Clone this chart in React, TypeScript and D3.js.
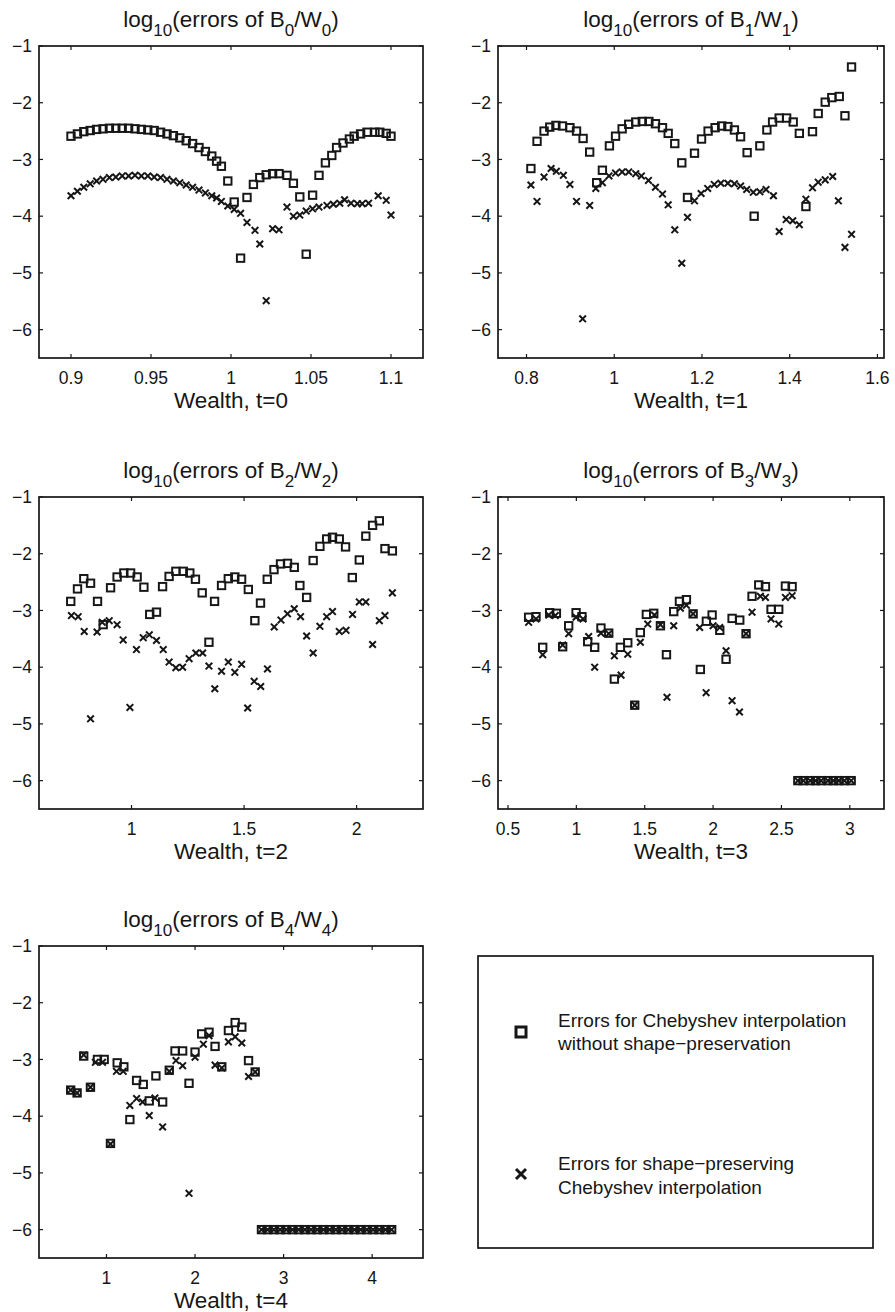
import React from 'react'
import * as d3 from 'd3'

// values (log10 of the errors)
const yTicks = [-1, -2, -3, -4, -5, -6]

const xTicks0 = [0.9, 0.95, 1, 1.05, 1.1]
const xTicks1 = [0.8, 1, 1.2, 1.4, 1.6]
const xTicks2 = [1, 1.5, 2]
const xTicks3 = [0.5, 1, 1.5, 2, 2.5, 3]
const xTicks4 = [1, 2, 3, 4]

const squares0 = [[0.9,-2.59],[0.904,-2.55],[0.908,-2.51],[0.912,-2.49],[0.916,-2.47],[0.92,-2.46],[0.924,-2.45],[0.928,-2.45],[0.932,-2.45],[0.936,-2.45],[0.94,-2.46],[0.944,-2.47],[0.948,-2.48],[0.952,-2.49],[0.956,-2.52],[0.96,-2.55],[0.964,-2.58],[0.968,-2.62],[0.972,-2.67],[0.976,-2.72],[0.98,-2.79],[0.984,-2.86],[0.988,-2.94],[0.991,-3.03],[0.994,-3.12],[0.998,-3.38],[1.002,-3.75],[1.006,-4.74],[1.01,-3.67],[1.014,-3.44],[1.018,-3.32],[1.022,-3.27],[1.026,-3.25],[1.03,-3.25],[1.035,-3.28],[1.039,-3.42],[1.043,-3.66],[1.047,-4.67],[1.051,-3.63],[1.055,-3.28],[1.059,-3.06],[1.063,-2.93],[1.066,-2.79],[1.07,-2.71],[1.074,-2.64],[1.077,-2.59],[1.081,-2.55],[1.085,-2.52],[1.09,-2.52],[1.093,-2.52],[1.097,-2.54],[1.1,-2.59]]
const crosses0 = [[0.9,-3.64],[0.904,-3.56],[0.908,-3.49],[0.912,-3.43],[0.916,-3.38],[0.92,-3.35],[0.924,-3.32],[0.928,-3.31],[0.932,-3.29],[0.936,-3.29],[0.94,-3.28],[0.944,-3.29],[0.948,-3.29],[0.952,-3.31],[0.956,-3.32],[0.96,-3.35],[0.964,-3.38],[0.968,-3.41],[0.972,-3.45],[0.976,-3.49],[0.98,-3.54],[0.984,-3.59],[0.988,-3.64],[0.991,-3.68],[0.994,-3.74],[0.998,-3.82],[1.002,-3.88],[1.006,-3.95],[1.01,-4.11],[1.015,-4.25],[1.018,-4.49],[1.022,-5.49],[1.026,-4.22],[1.03,-4.24],[1.035,-3.84],[1.039,-4.0],[1.043,-3.98],[1.047,-3.91],[1.051,-3.87],[1.055,-3.84],[1.06,-3.81],[1.064,-3.79],[1.068,-3.77],[1.071,-3.71],[1.075,-3.77],[1.079,-3.78],[1.082,-3.78],[1.086,-3.77],[1.092,-3.64],[1.097,-3.72],[1.1,-3.98]]

const squares1 = [[0.81,-3.16],[0.824,-2.68],[0.84,-2.5],[0.853,-2.43],[0.867,-2.4],[0.882,-2.41],[0.899,-2.44],[0.914,-2.5],[0.929,-2.63],[0.944,-2.87],[0.96,-3.41],[0.973,-3.19],[0.989,-2.76],[1.003,-2.59],[1.018,-2.46],[1.033,-2.38],[1.049,-2.34],[1.064,-2.33],[1.079,-2.33],[1.094,-2.37],[1.11,-2.44],[1.123,-2.54],[1.138,-2.72],[1.154,-3.06],[1.167,-3.67],[1.183,-2.89],[1.199,-2.64],[1.214,-2.5],[1.23,-2.44],[1.245,-2.41],[1.259,-2.42],[1.274,-2.48],[1.288,-2.6],[1.303,-2.88],[1.319,-4.0],[1.332,-2.76],[1.348,-2.48],[1.361,-2.34],[1.376,-2.27],[1.393,-2.27],[1.408,-2.34],[1.422,-2.54],[1.437,-3.83],[1.452,-2.51],[1.465,-2.19],[1.481,-1.99],[1.496,-1.91],[1.513,-1.89],[1.526,-2.23],[1.541,-1.37]]
const crosses1 = [[0.81,-3.45],[0.824,-3.74],[0.84,-3.31],[0.856,-3.16],[0.868,-3.21],[0.884,-3.28],[0.899,-3.44],[0.914,-3.74],[0.928,-5.81],[0.944,-3.81],[0.958,-3.51],[0.973,-3.41],[0.988,-3.29],[1.003,-3.24],[1.018,-3.22],[1.033,-3.22],[1.049,-3.25],[1.062,-3.29],[1.078,-3.37],[1.094,-3.49],[1.11,-3.61],[1.123,-3.8],[1.138,-4.24],[1.154,-4.83],[1.167,-4.02],[1.183,-3.73],[1.198,-3.6],[1.213,-3.51],[1.228,-3.44],[1.243,-3.42],[1.259,-3.42],[1.274,-3.43],[1.288,-3.47],[1.302,-3.53],[1.317,-3.58],[1.332,-3.57],[1.346,-3.53],[1.363,-3.64],[1.376,-4.27],[1.392,-4.06],[1.407,-4.08],[1.422,-4.15],[1.437,-3.7],[1.452,-3.5],[1.465,-3.4],[1.481,-3.36],[1.498,-3.3],[1.511,-3.73],[1.526,-4.55],[1.541,-4.32]]

const squares2 = [[0.73,-2.84],[0.76,-2.62],[0.788,-2.44],[0.818,-2.52],[0.849,-2.84],[0.874,-3.25],[0.907,-2.6],[0.936,-2.41],[0.966,-2.34],[0.996,-2.34],[1.025,-2.41],[1.055,-2.59],[1.081,-3.07],[1.111,-3.03],[1.138,-2.58],[1.167,-2.4],[1.197,-2.31],[1.23,-2.31],[1.259,-2.34],[1.284,-2.45],[1.314,-2.69],[1.344,-3.56],[1.369,-2.84],[1.4,-2.56],[1.43,-2.44],[1.459,-2.41],[1.489,-2.45],[1.519,-2.63],[1.548,-3.18],[1.573,-2.87],[1.603,-2.45],[1.633,-2.28],[1.662,-2.18],[1.693,-2.17],[1.723,-2.24],[1.748,-2.56],[1.778,-2.77],[1.807,-2.12],[1.837,-1.87],[1.867,-1.74],[1.893,-1.71],[1.923,-1.74],[1.951,-1.88],[1.981,-2.42],[2.012,-2.11],[2.041,-1.69],[2.071,-1.5],[2.101,-1.42],[2.126,-1.91],[2.159,-1.95]]
const crosses2 = [[0.733,-3.09],[0.763,-3.11],[0.79,-3.37],[0.818,-4.91],[0.847,-3.38],[0.87,-3.21],[0.901,-3.18],[0.936,-3.25],[0.963,-3.52],[0.993,-4.71],[1.022,-3.69],[1.052,-3.48],[1.079,-3.43],[1.111,-3.53],[1.141,-3.69],[1.167,-3.91],[1.197,-4.01],[1.227,-4.0],[1.256,-3.85],[1.286,-3.75],[1.316,-3.75],[1.344,-3.98],[1.37,-4.38],[1.4,-4.07],[1.43,-3.91],[1.459,-4.09],[1.489,-3.95],[1.516,-4.72],[1.545,-4.25],[1.574,-4.34],[1.604,-4.03],[1.634,-3.29],[1.664,-3.17],[1.693,-3.06],[1.723,-2.97],[1.751,-3.11],[1.778,-3.45],[1.807,-3.75],[1.837,-3.28],[1.867,-3.11],[1.893,-3.02],[1.923,-3.37],[1.953,-3.35],[1.982,-3.07],[2.012,-2.85],[2.041,-2.85],[2.071,-3.6],[2.101,-3.18],[2.126,-3.09],[2.159,-2.69]]

const squares3 = [[0.651,-3.12],[0.705,-3.11],[0.754,-3.65],[0.805,-3.04],[0.854,-3.05],[0.9,-3.64],[0.944,-3.27],[0.998,-3.04],[1.041,-3.11],[1.083,-3.55],[1.134,-3.65],[1.18,-3.31],[1.237,-3.4],[1.278,-4.21],[1.322,-3.65],[1.376,-3.57],[1.427,-4.67],[1.468,-3.39],[1.512,-3.07],[1.566,-3.05],[1.615,-3.27],[1.659,-3.78],[1.712,-3.02],[1.754,-2.84],[1.805,-2.81],[1.854,-3.06],[1.907,-4.04],[1.951,-3.19],[1.993,-3.08],[2.049,-3.35],[2.095,-3.86],[2.139,-3.14],[2.195,-3.17],[2.241,-3.41],[2.285,-2.75],[2.334,-2.55],[2.383,-2.58],[2.424,-2.98],[2.48,-2.98],[2.529,-2.57],[2.578,-2.58]]
const crosses3 = [[0.651,-3.21],[0.705,-3.15],[0.754,-3.78],[0.798,-3.08],[0.846,-3.09],[0.9,-3.61],[0.944,-3.41],[0.998,-3.12],[1.049,-3.15],[1.09,-3.46],[1.134,-4.0],[1.18,-3.4],[1.237,-3.41],[1.278,-3.8],[1.327,-4.14],[1.376,-3.77],[1.427,-4.67],[1.468,-3.56],[1.522,-3.24],[1.571,-3.08],[1.615,-3.25],[1.663,-4.53],[1.712,-3.27],[1.761,-2.96],[1.805,-2.91],[1.854,-3.06],[1.902,-3.3],[1.949,-4.45],[2.0,-3.27],[2.049,-3.3],[2.095,-3.71],[2.139,-4.59],[2.193,-4.79],[2.241,-3.41],[2.285,-3.03],[2.346,-2.75],[2.383,-2.77],[2.424,-3.15],[2.48,-3.24],[2.529,-2.77],[2.578,-2.74]]
// points stuck at the 1e-6 floor
const floorX3 = [2.62, 2.66, 2.71, 2.75, 2.79, 2.84, 2.88, 2.92, 2.96, 3.01]

const squares4 = [[0.596,-3.54],[0.668,-3.59],[0.743,-2.94],[0.819,-3.49],[0.898,-3.0],[0.974,-3.0],[1.045,-4.48],[1.121,-3.06],[1.196,-3.13],[1.264,-4.06],[1.34,-3.37],[1.415,-3.44],[1.483,-3.73],[1.558,-3.29],[1.634,-3.75],[1.709,-3.19],[1.774,-2.85],[1.86,-2.85],[1.932,-3.42],[2.0,-2.87],[2.075,-2.55],[2.158,-2.52],[2.226,-2.77],[2.302,-3.13],[2.377,-2.49],[2.453,-2.35],[2.528,-2.43],[2.604,-3.02],[2.679,-3.22]]
const crosses4 = [[0.596,-3.54],[0.668,-3.59],[0.743,-2.92],[0.819,-3.49],[0.875,-3.05],[0.955,-3.05],[1.045,-4.49],[1.113,-3.21],[1.189,-3.21],[1.264,-3.81],[1.34,-3.69],[1.408,-3.75],[1.483,-3.99],[1.547,-3.68],[1.634,-4.19],[1.709,-3.21],[1.785,-3.02],[1.86,-3.11],[1.932,-5.36],[2.0,-2.96],[2.094,-2.73],[2.158,-2.58],[2.226,-3.1],[2.302,-3.15],[2.377,-2.69],[2.453,-2.6],[2.528,-2.71],[2.604,-3.3],[2.679,-3.22]]
const floorX4 = [2.75, 2.82, 2.89, 2.96, 3.03, 3.1, 3.17, 3.24, 3.31, 3.38, 3.45, 3.52, 3.59, 3.66, 3.73, 3.8, 3.87, 3.94, 4.01, 4.08, 4.15, 4.22]
const floorY = -6

const legendSquareText = ['Errors for Chebyshev interpolation', 'without shape\u2212preservation']
const legendCrossText = ['Errors for shape\u2212preserving', 'Chebyshev interpolation']

const withFloor = (pts, xs) => pts.concat(xs.map(x => [x, floorY]))

const panels = [
  { t: 0, left: 39, top: 46, width: 384, xDomain: [0.88, 1.12], xTicks: xTicks0, squares: squares0, crosses: crosses0 },
  { t: 1, left: 498, top: 46, width: 386, xDomain: [0.735, 1.615], xTicks: xTicks1, squares: squares1, crosses: crosses1 },
  { t: 2, left: 39, top: 497, width: 384, xDomain: [0.589, 2.295], xTicks: xTicks2, squares: squares2, crosses: crosses2 },
  { t: 3, left: 498, top: 497, width: 386, xDomain: [0.427, 3.25], xTicks: xTicks3, squares: withFloor(squares3, floorX3), crosses: withFloor(crosses3, floorX3) },
  { t: 4, left: 39, top: 946, width: 384, xDomain: [0.238, 4.574], xTicks: xTicks4, squares: withFloor(squares4, floorX4), crosses: withFloor(crosses4, floorX4) },
]

const ink = '#161616'
const font = '"Liberation Sans", Arial, Helvetica, sans-serif'
const panelHeight = 312
const tickLen = 4

const fmt = v => (v < 0 ? '\u2212' + Math.abs(v) : String(v))

function crossPath(r) {
  return `M${-r},${-r}L${r},${r}M${-r},${r}L${r},${-r}`
}

function Panel({ p }) {
  const w = p.width
  const h = panelHeight
  const x = d3.scaleLinear().domain(p.xDomain).range([0, w])
  const y = d3.scaleLinear().domain([-6.5, -1]).range([h, 0])
  const sub = 17
  return (
    <g transform={`translate(${p.left},${p.top})`}>
      <text x={w / 2} y={-19} textAnchor="middle" fontSize={22.5} fill={ink}>
        log<tspan dy={9} fontSize={sub}>10</tspan>
        <tspan dy={-9}>(errors of B</tspan>
        <tspan dy={9} fontSize={sub}>{p.t}</tspan>
        <tspan dy={-9}>/W</tspan>
        <tspan dy={9} fontSize={sub}>{p.t}</tspan>
        <tspan dy={-9}>)</tspan>
      </text>

      {p.squares.map((d, i) => (
        <rect key={'s' + i} x={x(d[0]) - 3.7} y={y(d[1]) - 3.7} width={7.4} height={7.4}
          fill="none" stroke={ink} strokeWidth={1.95} />
      ))}
      {p.crosses.map((d, i) => (
        <path key={'c' + i} d={crossPath(3.3)} transform={`translate(${x(d[0])},${y(d[1])})`}
          fill="none" stroke={ink} strokeWidth={2} />
      ))}

      <rect x={0} y={0} width={w} height={h} fill="none" stroke={ink} strokeWidth={1.7} />
      {p.xTicks.map(v => (
        <g key={'x' + v}>
          <line x1={x(v)} x2={x(v)} y1={h} y2={h - tickLen} stroke={ink} strokeWidth={1.2} />
          <line x1={x(v)} x2={x(v)} y1={0} y2={tickLen} stroke={ink} strokeWidth={1.2} />
          <text x={x(v)} y={h + 26} textAnchor="middle" fontSize={17.5} fill={ink}>{fmt(v)}</text>
        </g>
      ))}
      {yTicks.map(v => (
        <g key={'y' + v}>
          <line x1={0} x2={tickLen} y1={y(v)} y2={y(v)} stroke={ink} strokeWidth={1.2} />
          <line x1={w} x2={w - tickLen} y1={y(v)} y2={y(v)} stroke={ink} strokeWidth={1.2} />
          <text x={-7} y={y(v)} dy="0.35em" textAnchor="end" fontSize={17.5} fill={ink}>{fmt(v)}</text>
        </g>
      ))}
      <text x={w / 2} y={h + 50} textAnchor="middle" fontSize={22.5} fill={ink}>Wealth, t={p.t}</text>
    </g>
  )
}

function Legend() {
  return (
    <g>
      <rect x={478} y={956} width={395} height={292} fill="none" stroke={ink} strokeWidth={1.7} />
      <rect x={516} y={1027} width={10} height={10} fill="none" stroke={ink} strokeWidth={3} />
      <text x={558} y={1027} fontSize={19} fill={ink}>{legendSquareText[0]}</text>
      <text x={558} y={1050} fontSize={19} fill={ink}>{legendSquareText[1]}</text>
      <path d={crossPath(5)} transform="translate(521,1174)" stroke={ink} strokeWidth={3} fill="none" />
      <text x={558} y={1170} fontSize={19} fill={ink}>{legendCrossText[0]}</text>
      <text x={558} y={1194} fontSize={19} fill={ink}>{legendCrossText[1]}</text>
    </g>
  )
}

export default function App() {
  return (
    <svg width={895} height={1312} fontFamily={font}
      style={{ position: 'absolute', left: 0, top: 0, display: 'block', background: '#fff' }}>
      <rect width={895} height={1312} fill="#fff" />
      {panels.map(p => <Panel key={p.t} p={p} />)}
      <Legend />
    </svg>
  )
}
